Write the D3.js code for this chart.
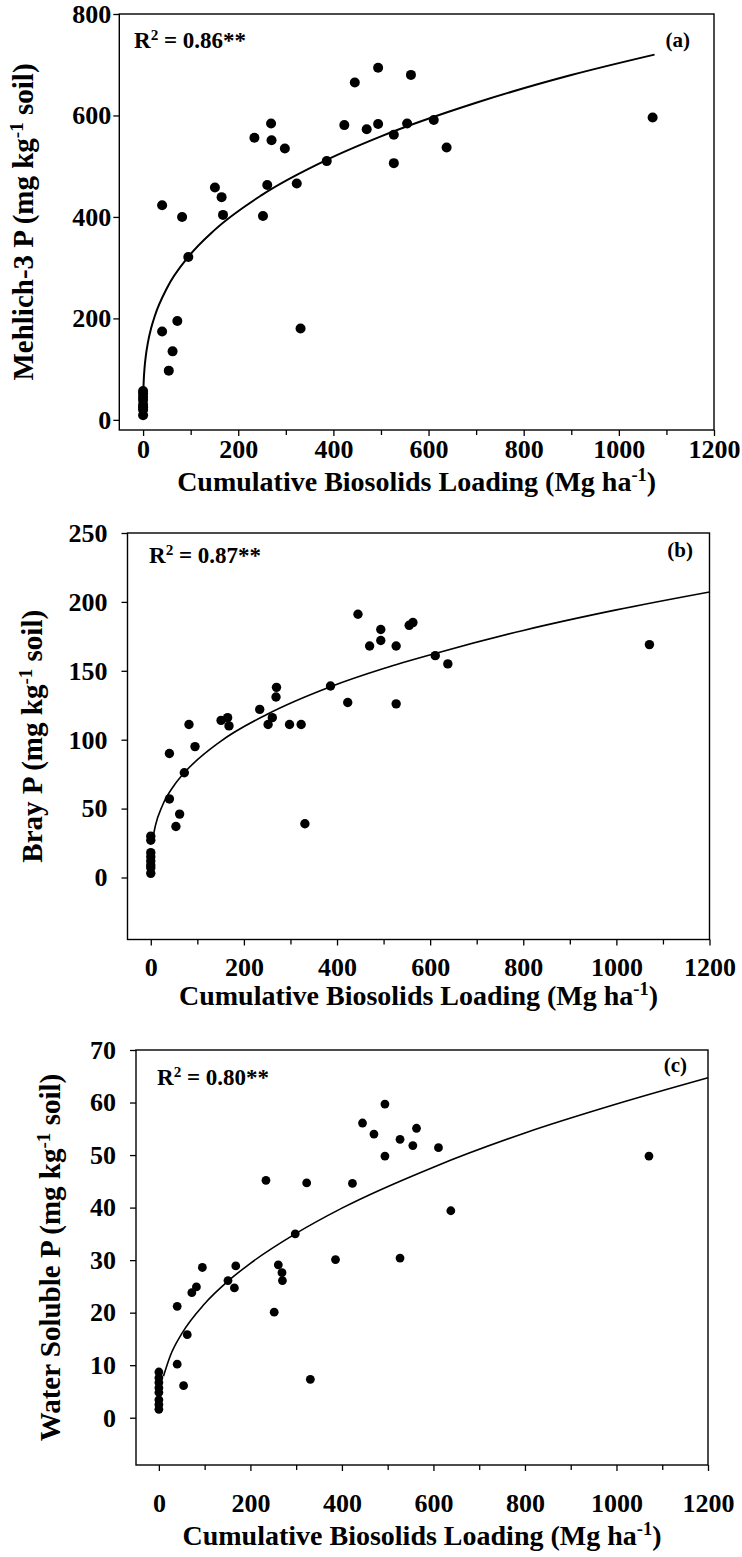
<html>
<head>
<meta charset="utf-8">
<style>
  body { margin: 0; background: #fff; }
  svg text { font-family: "Liberation Serif", "Times New Roman", serif; font-weight: bold; fill: #000; }
</style>
<script src="https://cdn.jsdelivr.net/npm/d3@7"></script>
</head>
<body>
<div id="chart"></div>
<script>
// cumulative biosolids loading (Mg/ha), same plots in all three panels
var loading = [0, 0, 0, 0, 0, 0, 0, 0,
  40, 40, 54, 62, 72, 82, 95, 151, 165, 168, 234, 252, 261, 269, 270, 298, 323, 331,
  386, 423, 445, 470, 494, 494, 527, 527, 555, 563, 611, 638, 1071];

// (a) Mehlich-3 P
var mehlichP = [57, 52, 45, 39, 30, 25, 20, 9,
  423, 174, 97, 135, 195, 400, 321, 458, 439, 404, 556, 402, 463, 584, 551, 535, 466, 180,
  510, 581, 665, 573, 694, 583, 562, 506, 584, 680, 591, 537, 596];

// (b) Bray P
var brayP = [30, 27, 18, 15, 12, 9, 7, 3,
  90, 57, 37, 46, 76, 111, 95, 114, 116, 110, 122, 111, 116, 131, 138, 111, 111, 39,
  139, 127, 191, 168, 180, 172, 168, 126, 183, 185, 161, 155, 169];

// (c) water soluble P
var waterP = [8.7, 7.6, 6.7, 5.7, 4.8, 3.4, 2.5, 1.6,
  21.2, 10.2, 6.1, 15.8, 23.8, 24.9, 28.6, 26.1, 24.7, 28.9, 45.2, 20.1, 29.1, 27.6, 26.1, 35.0, 44.7, 7.3,
  30.1, 44.6, 56.1, 54.0, 59.7, 49.8, 53.0, 30.4, 51.8, 55.1, 51.4, 39.4, 49.8];

// fitted curves
var fitXa = [0.7, 1.5, 3, 6, 10, 17, 25, 50, 95, 150, 250, 386, 500, 700, 900, 1075];
var fitYa = [62.5, 80.6, 101.5, 127.9, 151.7, 181, 205.8, 259.4, 321.2, 374, 443.5, 512.5, 558.8, 625, 679.7, 720];
var fitXb = [5, 10, 25, 50, 72, 150, 250, 386, 500, 611, 800, 1000, 1200];
var fitYb = [29.4, 37.7, 52.2, 66.8, 76, 98.8, 118.5, 138.5, 151.7, 162.6, 179.3, 194.2, 207.2];
var fitXc = [10, 25, 50, 100, 151, 200, 298, 400, 600, 800, 1000, 1200];
var fitYc = [7.9, 11.8, 16.0, 21.7, 26.0, 29.4, 35.0, 39.9, 47.7, 54.2, 59.7, 64.7];

var xMajor = [0, 200, 400, 600, 800, 1000, 1200];
var xMinor = [100, 300, 500, 700, 900, 1100];
var yTicksA = [0, 200, 400, 600, 800];
var yTicksB = [0, 50, 100, 150, 200, 250];
var yTicksC = [0, 10, 20, 30, 40, 50, 60, 70];

var xTitle = ["Cumulative Biosolids Loading (Mg ha", "-1", ")"];

var svg = d3.select("#chart").append("svg")
  .attr("width", 742).attr("height", 1557);

var panels = [
  { y: mehlichP, fx: fitXa, fy: fitYa, ticks: yTicksA, dom: [-20, 800],
    left: 119.3, right: 714, top: 14, bottom: 430, r: 5, curveW: 2,
    yPad: 2, xPad: 4, xtY: 491, ytX: 33,
    yTitle: ["Mehlich-3 P (mg kg", "-1", " soil)"], r2: "0.86**", r2x: 134, r2y: 48,
    tag: "(a)", tagX: 690, tagY: 47 },
  { y: brayP, fx: fitXb, fy: fitYb, ticks: yTicksB, dom: [-45, 250],
    left: 127.5, right: 709.5, top: 533, bottom: 939.5, r: 4.7, curveW: 1.6,
    yPad: 14, xPad: 12, xtY: 1005, ytX: 42,
    yTitle: ["Bray P (mg kg", "-1", " soil)"], r2: "0.87**", r2x: 149, r2y: 563,
    tag: "(b)", tagX: 693, tagY: 557 },
  { y: waterP, fx: fitXc, fy: fitYc, ticks: yTicksC, dom: [-9, 70],
    left: 136, right: 708, top: 1050, bottom: 1465, r: 4.4, curveW: 1.6,
    yPad: 14, xPad: 23, xtY: 1545, ytX: 60,
    yTitle: ["Water Soluble P (mg kg", "-1", " soil)"], r2: "0.80**", r2x: 157, r2y: 1085,
    tag: "(c)", tagX: 687, tagY: 1072 }
];

// text with a superscript in the middle
function supText(sel, parts, fs) {
  sel.append("tspan").text(parts[0]);
  sel.append("tspan").attr("dy", -fs * 0.36).style("font-size", (fs * 0.66) + "px").text(parts[1]);
  sel.append("tspan").attr("dy", fs * 0.36).text(parts[2]);
}

panels.forEach(function (p) {
  var x = d3.scaleLinear().domain([-50, 1200]).range([p.left, p.right]);
  var y = d3.scaleLinear().domain(p.dom).range([p.bottom, p.top]);
  var g = svg.append("g");

  g.append("rect")
    .attr("x", p.left).attr("y", p.top)
    .attr("width", p.right - p.left).attr("height", p.bottom - p.top)
    .attr("fill", "none").attr("stroke", "#000").attr("stroke-width", 1.4);

  var gx = g.append("g").attr("transform", "translate(0," + p.bottom + ")")
    .call(d3.axisBottom(x).tickValues(xMajor).tickSize(6).tickPadding(p.xPad).tickFormat(d3.format("d")));
  var gm = g.append("g").attr("transform", "translate(0," + p.bottom + ")")
    .call(d3.axisBottom(x).tickValues(xMinor).tickSize(5).tickFormat(""));
  var gy = g.append("g").attr("transform", "translate(" + p.left + ",0)")
    .call(d3.axisLeft(y).tickValues(p.ticks).tickSize(6).tickPadding(p.yPad).tickFormat(d3.format("d")));

  [gx, gm, gy].forEach(function (a) {
    a.attr("font-family", null).attr("font-size", null);
    a.select(".domain").remove();
    a.selectAll("line").attr("stroke", "#000").attr("stroke-width", 1.3);
    a.selectAll("text").style("font-size", "26px");
  });

  // fitted curve
  var pts = p.fx.map(function (d, i) { return [d, p.fy[i]]; });
  g.append("path")
    .attr("d", d3.line().x(function (d) { return x(d[0]); }).y(function (d) { return y(d[1]); })
      .curve(d3.curveMonotoneX)(pts))
    .attr("fill", "none").attr("stroke", "#000").attr("stroke-width", p.curveW);

  // observations
  g.selectAll("circle").data(loading).enter().append("circle")
    .attr("cx", function (d) { return x(d); })
    .attr("cy", function (d, i) { return y(p.y[i]); })
    .attr("r", p.r).attr("fill", "#000");

  // R squared
  var rt = g.append("text").attr("x", p.r2x).attr("y", p.r2y).style("font-size", "23px");
  supText(rt, ["R", "2", " = " + p.r2], 23);

  g.append("text").attr("x", p.tagX).attr("y", p.tagY)
    .attr("text-anchor", "end").style("font-size", "21px").text(p.tag);

  // axis titles
  var xt = g.append("text").attr("x", (p.left + p.right) / 2).attr("y", p.xtY)
    .attr("text-anchor", "middle").style("font-size", "28px");
  supText(xt, xTitle, 28);

  var yt = g.append("text")
    .attr("transform", "translate(" + p.ytX + "," + (p.top + p.bottom) / 2 + ") rotate(-90)")
    .attr("text-anchor", "middle").style("font-size", "29px");
  supText(yt, p.yTitle, 29);
});
</script>
</body>
</html>
